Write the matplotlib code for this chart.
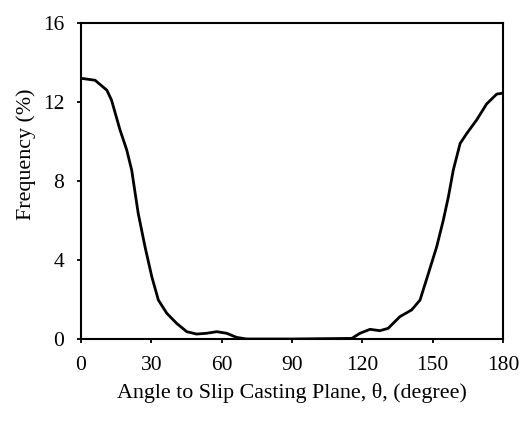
import matplotlib
matplotlib.use('Agg')
import matplotlib.pyplot as plt

plt.rcParams['font.family'] = ['Liberation Serif', 'DejaVu Serif']

# Orientation distribution: angle (deg) vs frequency (%)
angle = [0, 6, 11, 13, 16.6, 19.5, 21.6, 24.4, 27.3, 30.2, 33, 36.6, 40.8, 45.1,
         49.3, 53.6, 57.9, 62.1, 66.4, 70.6, 90, 115.5, 119, 123.3, 127.5, 131,
         136, 141, 144.6, 148.2, 151.7, 154.5, 156.7, 158.8, 161.7, 164.5, 168.8,
         173, 177.3, 180]
freq = [13.2, 13.1, 12.6, 12.1, 10.6, 9.57, 8.56, 6.36, 4.67, 3.15, 1.97, 1.3, 0.79,
        0.37, 0.25, 0.29, 0.37, 0.29, 0.08, 0.0, 0.0, 0.03, 0.29, 0.49, 0.42, 0.54,
        1.13, 1.47, 1.97, 3.33, 4.67, 6.0, 7.2, 8.56, 9.9, 10.4, 11.1,
        11.9, 12.4, 12.45]

xticks = [0, 30, 60, 90, 120, 150, 180]
yticks = [0, 4, 8, 12, 16]

fig = plt.figure(figsize=(5.23, 4.21), dpi=100)
ax = fig.add_axes([0.1549, 0.1948, 0.8069, 0.7506])

ax.plot(angle, freq, color='black', lw=2.0, solid_joinstyle='round')

ax.set_xlim(0, 180)
ax.set_ylim(0, 16)
ax.set_xticks(xticks)
ax.set_yticks(yticks)
ax.tick_params(direction='out', length=3, width=1.3, labelsize=15.5, pad=9)
for s in ax.spines.values():
    s.set_linewidth(1.5)

ax.set_xlabel('Angle to Slip Casting Plane, θ, (degree)', fontsize=15.8, labelpad=6)
ax.set_ylabel('Frequency (%)', fontsize=15.8)
ax.yaxis.set_label_coords(-0.106, 0.585)

fig.savefig('out.png', dpi=100)
